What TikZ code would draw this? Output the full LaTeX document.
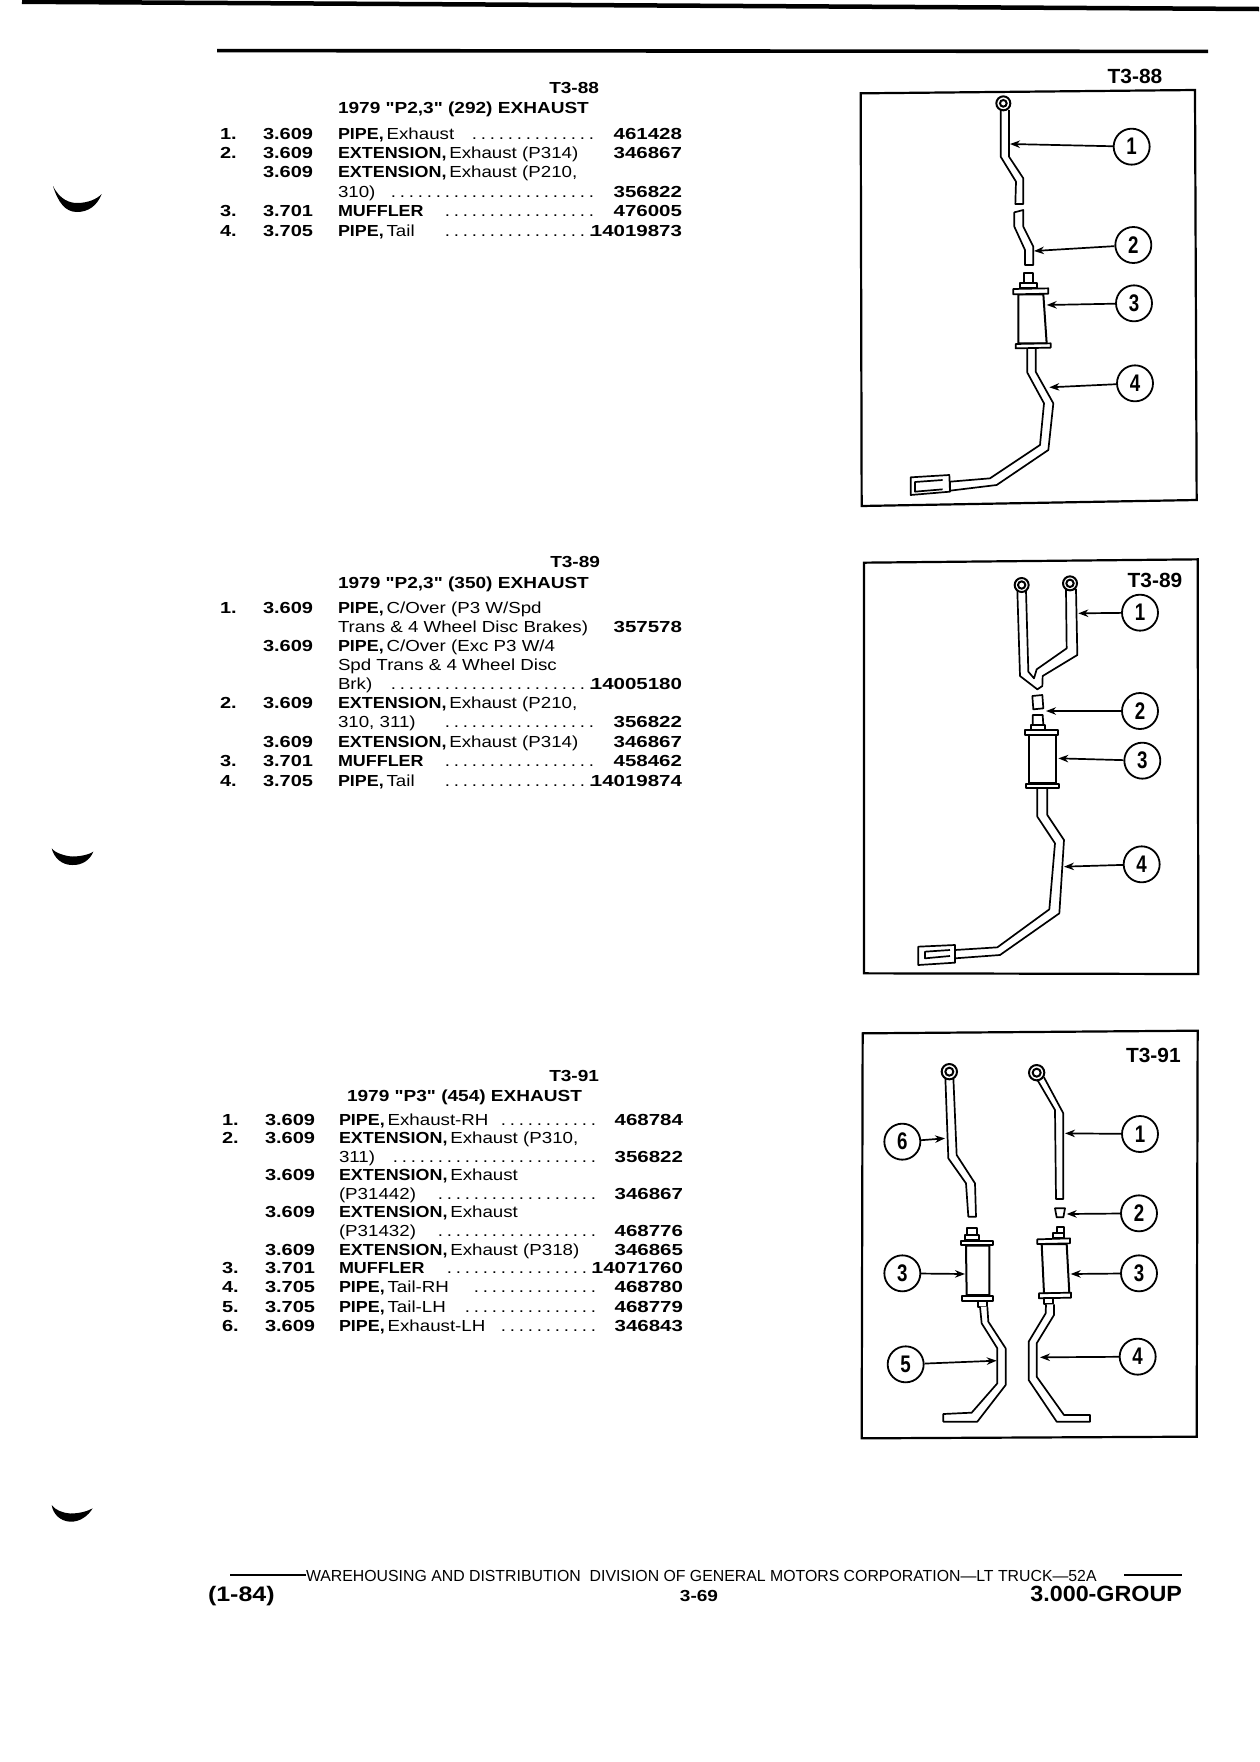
\documentclass[tikz,border=0pt]{standalone}
\usepackage{fontspec}
\usetikzlibrary{arrows.meta}
\setmainfont{Liberation Sans}
\newfontfamily\fBfam{Liberation Sans}[FakeStretch=1.12]
\newfontfamily\fTfam{Liberation Sans}[FakeStretch=1.19]
\newfontfamily\fNfam{Liberation Sans}[FakeStretch=1.28]
\newfontfamily\fCfam{Liberation Sans}[FakeStretch=1.25]
\newfontfamily\fRfam{Liberation Sans}[FakeStretch=1.17]
\newfontfamily\fLfam{Liberation Sans}[FakeStretch=1.02]
\newfontfamily\fFfam{Liberation Sans}[FakeStretch=0.99]
\newfontfamily\fDfam{Liberation Sans}[FakeStretch=0.78]
\newfontfamily\fGfam{Liberation Sans}[FakeStretch=1.06]
\newcommand\fB{\fBfam\bfseries\fontsize{16}{18}\selectfont}
\newcommand\fTt{\fTfam\bfseries\fontsize{16}{18}\selectfont}
\newcommand\fNn{\fNfam\bfseries\fontsize{16}{18}\selectfont}
\newcommand\fCc{\fCfam\bfseries\fontsize{16}{18}\selectfont}
\newcommand\fRr{\fRfam\fontsize{16}{18}\selectfont}
\newcount\dtc
\newcommand\dts[1]{\dtc=#1\relax\loop\ifnum\dtc>0 .\hskip 3.8pt\advance\dtc -1\repeat\unskip}
\newcommand\cN{220}\newcommand\cC{263}\newcommand\cT{338}\newcommand\cD{594}\newcommand\cP{682}
\newcommand\notempty[2]{\if\relax\detokenize{#1}\relax\else#2\fi}
% name, y, num, catalog, bold, regular, dots, part
\newcommand\prow[8]{%
 \notempty{#3}{\node[txt,anchor=base west] (#1n) at (\cN,#2) {\fCc #3};}%
 \notempty{#4}{\node[txt,anchor=base west] (#1c) at (\cC,#2) {\fCc #4};}%
 \node[txt,anchor=base west] (#1t) at (\cT,#2) {\notempty{#5}{{\fB #5}\ }{\fRr #6}};%
 \notempty{#7}{\node[txt,anchor=base east] (#1d) at (\cD,#2) {\fRr\dts{#7}};}%
 \notempty{#8}{\node[txt,anchor=base east] (#1p) at (\cP,#2) {\fNn #8};}%
}
\tikzset{
 txt/.style={inner sep=0pt,outer sep=0pt,text=black},
 frm/.style={draw=black,line width=2.2pt,line join=miter},
 pp/.style={draw=black,fill=white,line width=1.7pt,line join=round},
 bodyp/.style={draw=black,fill=white,line width=2pt,line join=miter},
 ringo/.style={draw=black,fill=white,line width=2pt},
 callout/.style={circle,draw=black,fill=white,line width=1.8pt,minimum size=36pt,inner sep=0pt,font=\fDfam\bfseries\fontsize{24}{25}\selectfont},
 arr/.style={draw=black,line width=1.7pt,-{Stealth[length=10pt,width=7.5pt]}},
 plabel/.style={txt,font=\fLfam\bfseries\fontsize{20.5}{22}\selectfont},
 zoomed/.style={x=0.33333pt,y=-0.33333pt}
}
\begin{document}
\begin{tikzpicture}[x=1pt,y=-1pt]
\useasboundingbox (0,0) rectangle (1259,1762);
\fill[white] (0,0) rectangle (1259,1762);
% top band and rule
\draw[line width=4.5pt] (22,1.8) -- (1259,9);
\draw[line width=3.6pt] (217,50.6) -- (1208,51.4);
% margin marks
\fill[black] (53,186) .. controls (60,200) and (70,203) .. (77,203) .. controls (88,203) and (97,199) .. (101.7,194) .. controls (97,206) and (88,212) .. (77,212) .. controls (65,212) and (58,202) .. (53,186) -- cycle;
\fill[black] (51.7,848.3) .. controls (55,853) and (65,856) .. (72,856.5) .. controls (82,856.5) and (90,854) .. (93.3,851.7) .. controls (90,860) and (82,865.5) .. (72,865) .. controls (62,865) and (54,858) .. (51.7,848.3) -- cycle;
\fill[black] (51.7,1505) .. controls (55,1510) and (63,1513) .. (70,1513.5) .. controls (80,1513.5) and (88,1511) .. (92.7,1508.3) .. controls (88,1516) and (80,1522) .. (70,1521.7) .. controls (60,1521) and (53,1514) .. (51.7,1505) -- cycle;
%
% ===== Block 1 =====
\node[txt,anchor=base east] (h1) at (599,93) {\fTt T3-88};
\node[txt,anchor=base west] (s1) at (338,113) {\fTt 1979 "P2,3" (292) EXHAUST};
\prow{a1}{139}{1.}{3.609}{PIPE,}{Exhaust}{14}{461428}
\prow{a2}{158}{2.}{3.609}{EXTENSION,}{Exhaust (P314)}{}{346867}
\prow{a3}{177}{}{3.609}{EXTENSION,}{Exhaust (P210,}{}{}
\prow{a4}{197}{}{}{}{310)}{23}{356822}
\prow{a5}{216}{3.}{3.701}{MUFFLER}{}{17}{476005}
\prow{a6}{236}{4.}{3.705}{PIPE,}{Tail}{17}{14019873}
% ===== Block 2 =====
\node[txt,anchor=base east] (h2) at (600,567) {\fTt T3-89};
\node[txt,anchor=base west] (s2) at (338,588) {\fTt 1979 "P2,3" (350) EXHAUST};
\prow{b1}{613}{1.}{3.609}{PIPE,}{C/Over (P3 W/Spd}{}{}
\prow{b2}{632}{}{}{}{Trans \& 4 Wheel Disc Brakes)}{}{357578}
\prow{b3}{651}{}{3.609}{PIPE,}{C/Over (Exc P3 W/4}{}{}
\prow{b4}{670}{}{}{}{Spd Trans \& 4 Wheel Disc}{}{}
\prow{b5}{689}{}{}{}{Brk)}{23}{14005180}
\prow{b6}{708}{2.}{3.609}{EXTENSION,}{Exhaust (P210,}{}{}
\prow{b7}{727}{}{}{}{310, 311)}{17}{356822}
\prow{b8}{747}{}{3.609}{EXTENSION,}{Exhaust (P314)}{}{346867}
\prow{b9}{766}{3.}{3.701}{MUFFLER}{}{17}{458462}
\prow{b10}{786}{4.}{3.705}{PIPE,}{Tail}{17}{14019874}
% ===== Block 3 =====
\renewcommand\cN{222}\renewcommand\cC{265}\renewcommand\cT{339}\renewcommand\cD{596}\renewcommand\cP{683}
\node[txt,anchor=base east] (h3) at (599,1081) {\fTt T3-91};
\node[txt,anchor=base west] (s3) at (347,1101) {\fTt 1979 "P3" (454) EXHAUST};
\prow{c1}{1125}{1.}{3.609}{PIPE,}{Exhaust-RH}{11}{468784}
\prow{c2}{1143}{2.}{3.609}{EXTENSION,}{Exhaust (P310,}{}{}
\prow{c3}{1162}{}{}{}{311)}{23}{356822}
\prow{c4}{1180}{}{3.609}{EXTENSION,}{Exhaust}{}{}
\prow{c5}{1199}{}{}{}{(P31442)}{18}{346867}
\prow{c6}{1217}{}{3.609}{EXTENSION,}{Exhaust}{}{}
\prow{c7}{1236}{}{}{}{(P31432)}{18}{468776}
\prow{c8}{1255}{}{3.609}{EXTENSION,}{Exhaust (P318)}{}{346865}
\prow{c9}{1273}{3.}{3.701}{MUFFLER}{}{17}{14071760}
\prow{c10}{1292}{4.}{3.705}{PIPE,}{Tail-RH}{14}{468780}
\prow{c11}{1312}{5.}{3.705}{PIPE,}{Tail-LH}{15}{468779}
\prow{c12}{1331}{6.}{3.609}{PIPE,}{Exhaust-LH}{11}{346843}
%
% ===== Panel T3-88 =====
\begin{scope}[shift={(840pt,-50pt)},zoomed]
\draw[frm] (62,130) -- (1065,120) -- (1070,1350) -- (65,1368) -- cycle;
\node[plabel] (L1) at (885,78) {T3-88};
\draw[pp] (482,180) -- (482,320) -- (528,395) -- (526,462) -- (550,462) -- (550,385) -- (507,320) -- (507,180);
\draw[ringo] (490,160) circle[radius=21];
\draw[ringo] (490,160) circle[radius=10];
\draw[pp] (523,487) -- (523,530) -- (555,600) -- (555,645) -- (580,645) -- (580,590) -- (550,530) -- (550,480) -- cycle;
\draw[pp] (553,670) -- (580,670) -- (580,700) -- (553,700) -- cycle;
\draw[pp] (540,700) -- (590,700) -- (590,715) -- (540,715) -- cycle;
\draw[bodyp] (535,733) -- (610,733) -- (620,880) -- (535,880) -- cycle;
\draw[pp] (520,717) -- (625,715) -- (625,731) -- (520,733) -- cycle;
\draw[pp] (527,882) -- (632,880) -- (632,893) -- (527,895) -- cycle;
\draw[pp] (562,897) -- (562,968) -- (612,1060) -- (600,1185) -- (450,1285) -- (330,1295) -- (330,1322) -- (470,1305) -- (625,1200) -- (640,1060) -- (587,965) -- (587,897);
\draw[pp] (212,1282) -- (328,1275) -- (330,1325) -- (212,1335) -- cycle;
\draw[pp] (308,1290) -- (225,1296) -- (225,1325) -- (308,1318);
\node[callout] (p1n1) at (875,290) {1};
\node[callout] (p1n2) at (880,585) {2};
\node[callout] (p1n3) at (882,760) {3};
\node[callout] (p1n4) at (885,1000) {4};
\coordinate (p1a1) at (510,282);
\coordinate (p1a2) at (582,603);
\coordinate (p1a3) at (620,765);
\coordinate (p1a4) at (628,1012);
\draw[arr] (p1n1) -- (p1a1);
\draw[arr] (p1n2) -- (p1a2);
\draw[arr] (p1n3) -- (p1a3);
\draw[arr] (p1n4) -- (p1a4);
\end{scope}
%
% ===== Panel T3-89 =====
\begin{scope}[shift={(840pt,-550pt)},zoomed]
\draw[frm] (72,38) -- (1073,28) -- (1075,1272) -- (72,1270) -- cycle;
\node[plabel] (L2) at (945,90) {T3-89};
\draw[pp] (532,122) -- (540,378) -- (592,418) -- (607,408) -- (608,378) -- (712,315) -- (708,118) -- (678,118) -- (680,295) -- (590,358) -- (582,385) -- (565,365) -- (558,122);
\draw[ringo] (545,105) circle[radius=21];
\draw[ringo] (545,105) circle[radius=11];
\draw[ringo] (690,100) circle[radius=21];
\draw[ringo] (690,100) circle[radius=11];
\draw[pp] (577,438) -- (607,435) -- (610,475) -- (580,478) -- cycle;
\draw[pp] (578,495) -- (608,495) -- (610,525) -- (578,525) -- cycle;
\draw[pp] (572,525) -- (615,525) -- (615,540) -- (572,540) -- cycle;
\draw[bodyp] (568,555) -- (648,555) -- (648,700) -- (568,700) -- cycle;
\draw[pp] (555,540) -- (655,540) -- (655,555) -- (555,555) -- cycle;
\draw[pp] (558,702) -- (658,702) -- (658,715) -- (558,715) -- cycle;
\draw[pp] (592,717) -- (592,800) -- (645,880) -- (628,1078) -- (472,1192) -- (345,1200) -- (345,1225) -- (480,1215) -- (658,1090) -- (672,870) -- (622,795) -- (622,717);
\draw[pp] (235,1190) -- (345,1185) -- (345,1238) -- (235,1245) -- cycle;
\draw[pp] (330,1200) -- (255,1205) -- (255,1225) -- (330,1218);
\node[callout] (p2n1) at (900,188) {1};
\node[callout] (p2n2) at (900,483) {2};
\node[callout] (p2n3) at (907,632) {3};
\node[callout] (p2n4) at (905,943) {4};
\coordinate (p2a1) at (715,190);
\coordinate (p2a2) at (618,483);
\coordinate (p2a3) at (655,625);
\coordinate (p2a4) at (672,950);
\draw[arr] (p2n1) -- (p2a1);
\draw[arr] (p2n2) -- (p2a2);
\draw[arr] (p2n3) -- (p2a3);
\draw[arr] (p2n4) -- (p2a4);
\end{scope}
%
% ===== Panel T3-91 =====
\begin{scope}[shift={(840pt,-1020pt)},zoomed]
\draw[frm] (68,40) -- (1073,32) -- (1070,1250) -- (65,1255) -- cycle;
\node[plabel] (L3) at (940,105) {T3-91};
% left column
\draw[pp] (316,172) -- (325,415) -- (378,490) -- (385,590) -- (408,590) -- (405,490) -- (350,405) -- (340,172);
\draw[ringo] (328,155) circle[radius=23];
\draw[ringo] (328,155) circle[radius=12];
\draw[pp] (380,625) -- (410,625) -- (410,645) -- (380,645) -- cycle;
\draw[pp] (375,645) -- (418,645) -- (418,660) -- (375,660) -- cycle;
\draw[bodyp] (378,677) -- (448,677) -- (448,825) -- (380,825) -- cycle;
\draw[pp] (362,662) -- (460,662) -- (460,675) -- (362,675) -- cycle;
\draw[pp] (365,827) -- (460,827) -- (460,842) -- (365,842) -- cycle;
\draw[pp] (415,842) -- (442,842) -- (442,860) -- (415,860) -- cycle;
\draw[pp] (420,860) -- (425,910) -- (472,985) -- (472,1090) -- (395,1178) -- (310,1182) -- (310,1205) -- (412,1205) -- (497,1095) -- (497,985) -- (445,905) -- (442,860);
% right column
\draw[pp] (590,176) -- (645,270) -- (648,537) -- (670,537) -- (670,280) -- (612,172);
\draw[ringo] (590,158) circle[radius=23];
\draw[ringo] (590,158) circle[radius=12];
\draw[pp] (645,565) -- (675,565) -- (670,592) -- (650,592) -- cycle;
\draw[pp] (650,620) -- (672,620) -- (672,640) -- (650,640) -- cycle;
\draw[pp] (640,640) -- (672,640) -- (672,655) -- (640,655) -- cycle;
\draw[bodyp] (605,672) -- (680,672) -- (688,820) -- (612,820) -- cycle;
\draw[pp] (592,658) -- (690,655) -- (690,670) -- (592,672) -- cycle;
\draw[pp] (597,820) -- (693,818) -- (693,833) -- (597,835) -- cycle;
\draw[pp] (612,835) -- (640,835) -- (640,853) -- (612,853) -- cycle;
\draw[pp] (618,853) -- (617,880) -- (566,965) -- (566,1080) -- (650,1205) -- (750,1205) -- (750,1185) -- (672,1185) -- (590,1070) -- (590,970) -- (642,885) -- (642,853);
\node[callout] (p3n6) at (187,365) {6};
\node[callout] (p3n3l) at (187,760) {3};
\node[callout] (p3n5) at (197,1033) {5};
\node[callout] (p3n1) at (900,342) {1};
\node[callout] (p3n2) at (897,580) {2};
\node[callout] (p3n3r) at (897,760) {3};
\node[callout] (p3n4) at (893,1010) {4};
\coordinate (p3a6) at (315,355);
\coordinate (p3a3l) at (375,762);
\coordinate (p3a5) at (470,1022);
\coordinate (p3a1) at (675,340);
\coordinate (p3a2) at (680,582);
\coordinate (p3a3r) at (692,762);
\coordinate (p3a4) at (600,1012);
\draw[arr] (p3n6) -- (p3a6);
\draw[arr] (p3n3l) -- (p3a3l);
\draw[arr] (p3n5) -- (p3a5);
\draw[arr] (p3n1) -- (p3a1);
\draw[arr] (p3n2) -- (p3a2);
\draw[arr] (p3n3r) -- (p3a3r);
\draw[arr] (p3n4) -- (p3a4);
\end{scope}
%
% ===== Footer =====
\coordinate (fl1) at (230,1575);
\coordinate (fl2) at (1124,1575);
\coordinate (fr2) at (1182,1575);
\node[txt,anchor=base west,font=\fFfam\fontsize{16}{18}\selectfont] (F1) at (306,1581) {WAREHOUSING AND DISTRIBUTION\ \ DIVISION OF GENERAL MOTORS CORPORATION—LT TRUCK—52A};
\draw[line width=1.3pt] (fl1) -- (F1.base west |- fl1);
\draw[line width=1.3pt] (fl2) -- (fr2);
\node[txt,anchor=base west,font=\fTfam\bfseries\fontsize{21}{22}\selectfont] (F2) at (208,1601) {(1-84)};
\node[txt,anchor=base,font=\fTfam\bfseries\fontsize{16}{18}\selectfont] (F3) at (699,1601) {3-69};
\node[txt,anchor=base east,font=\fGfam\bfseries\fontsize{22}{24}\selectfont] (F4) at (1182,1601) {3.000-GROUP};
\end{tikzpicture}
\end{document}
